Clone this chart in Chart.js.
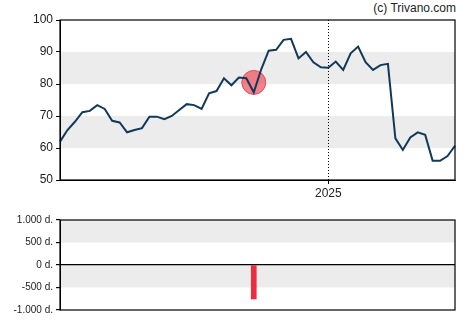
<!DOCTYPE html>
<html lang="en">
  <head>
    <meta charset="UTF-8" />
    <script src="https://cdn.jsdelivr.net/npm/chart.js"></script>
    <title>Kursverlauf</title>
    <style>
      body { margin: 0; width: 470px; height: 325px; position: relative; background: #fff; overflow: hidden; font-family: "Liberation Sans", Arial, sans-serif; }
      #copy { position: absolute; right: 14px; top: 1px; font-size: 12px; color: #222; }
      #topBox { position: absolute; left: 0; top: 0; width: 470px; height: 200px; }
      #botBox { position: absolute; left: 0; top: 200px; width: 470px; height: 125px; }
    </style>
  </head>
  <body>
    <div id="copy">(c) Trivano.com</div>
    <div id="topBox"><canvas id="price"></canvas></div>
    <div id="botBox"><canvas id="volume"></canvas></div>
    <script>
      // weekly closes
      const prices = [62.0, 65.6, 68.2, 71.2, 71.6, 73.4, 72.2, 68.5, 68.0, 64.9,
        65.6, 66.2, 69.8, 69.8, 69.0, 70.0, 71.9, 73.7, 73.4, 72.2,
        77.1, 77.8, 81.8, 79.6, 82.0, 81.8, 77.4, 84.6, 90.4, 90.7,
        93.8, 94.1, 88.0, 90.0, 86.8, 85.2, 85.1, 87.0, 84.4, 89.6,
        91.7, 86.8, 84.4, 85.9, 86.3, 63.0, 59.4, 63.3, 64.9, 64.1,
        56.0, 56.0, 57.5, 60.7];
      const yearTickIndex = 36;
      const yearTickLabel = '2025';
      const signalIndex = 26;
      const signalValue = 80.5;
      const volumeValue = -755;
      const priceBands = [[60, 70], [80, 90]];
      const volumeBands = [[-500, 0], [500, 1000]];
      const volTickValues = [-1000, -500, 0, 500, 1000];
      const volTickLabels = ['-1.000 d.', '-500 d.', '0 d.', '500 d.', '1.000 d.'];

      const xLabels = prices.map((_, i) => i === yearTickIndex ? yearTickLabel : '');
      const signalData = prices.map((_, i) => i === signalIndex ? signalValue : null);
      const volumeData = prices.map((_, i) => i === signalIndex ? volumeValue : null);

      const font = { family: '"Liberation Sans", Arial, sans-serif', size: 12 };

      const bands = {
        id: 'bands',
        beforeDraw(chart, args, opts) {
          const { ctx, chartArea: a } = chart;
          const y = chart.scales.y;
          ctx.save();
          ctx.fillStyle = '#ececec';
          opts.ranges.forEach(([lo, hi]) => {
            const t = y.getPixelForValue(hi), b = y.getPixelForValue(lo);
            ctx.fillRect(a.left, t, a.right - a.left, b - t);
          });
          ctx.restore();
        }
      };
      const frame = {
        id: 'frame',
        afterDraw(chart) {
          const { ctx, chartArea: a } = chart;
          ctx.save();
          ctx.strokeStyle = '#000';
          ctx.lineWidth = 1.2;
          ctx.strokeRect(a.left, a.top, a.right - a.left, a.bottom - a.top);
          ctx.restore();
        }
      };

      new Chart(document.getElementById('price'), {
        type: 'line',
        data: {
          labels: xLabels,
          datasets: [
            { data: prices, borderColor: '#12385a', borderWidth: 2, pointRadius: 0, tension: 0, order: 0 },
            { data: signalData, showLine: false, pointRadius: 12, pointHoverRadius: 12,
              backgroundColor: 'rgba(238, 80, 95, 0.72)', borderColor: 'rgba(225, 55, 70, 0.8)', borderWidth: 1, order: 1 }
          ]
        },
        options: {
          responsive: true,
          maintainAspectRatio: false,
          animation: false,
          layout: { padding: { top: 20, right: 15, left: 0, bottom: 0 } },
          plugins: { legend: { display: false }, tooltip: { enabled: false }, bands: { ranges: priceBands } },
          scales: {
            x: {
              afterFit: s => { s.height = 20; },
              ticks: { autoSkip: false, maxRotation: 0, padding: 2, color: '#222', font },
              grid: {
                color: c => c.index === yearTickIndex ? '#000' : 'transparent',
                tickColor: c => c.index === yearTickIndex ? '#000' : 'transparent',
                tickLength: 4, lineWidth: 1
              },
              border: { display: true, color: '#000', dash: [1, 2] }
            },
            y: {
              min: 50, max: 100,
              afterFit: s => { s.width = 60; },
              ticks: { stepSize: 10, padding: 3, color: '#222', font },
              grid: { drawOnChartArea: false, tickColor: '#000', tickLength: 4 },
              border: { color: '#000' }
            }
          }
        },
        plugins: [bands, frame]
      });

      new Chart(document.getElementById('volume'), {
        type: 'bar',
        data: {
          labels: xLabels,
          datasets: [{ data: volumeData, backgroundColor: '#ef2b40', barThickness: 5 }]
        },
        options: {
          responsive: true,
          maintainAspectRatio: false,
          animation: false,
          layout: { padding: { top: 20, right: 15, left: 0, bottom: 15 } },
          plugins: { legend: { display: false }, tooltip: { enabled: false }, bands: { ranges: volumeBands } },
          scales: {
            x: { display: false, offset: false },
            y: {
              min: -1000, max: 1000,
              afterFit: s => { s.width = 60; },
              afterBuildTicks: s => { s.ticks = volTickValues.map(v => ({ value: v })); },
              ticks: {
                padding: 3, color: '#222', font: { family: font.family, size: 10 },
                callback: v => volTickLabels[volTickValues.indexOf(v)]
              },
              grid: {
                color: c => c.tick && c.tick.value === 0 ? '#000' : 'transparent',
                tickColor: '#000', tickLength: 4, lineWidth: 1.2
              },
              border: { color: '#000' }
            }
          }
        },
        plugins: [bands, frame]
      });
    </script>
  </body>
</html>
